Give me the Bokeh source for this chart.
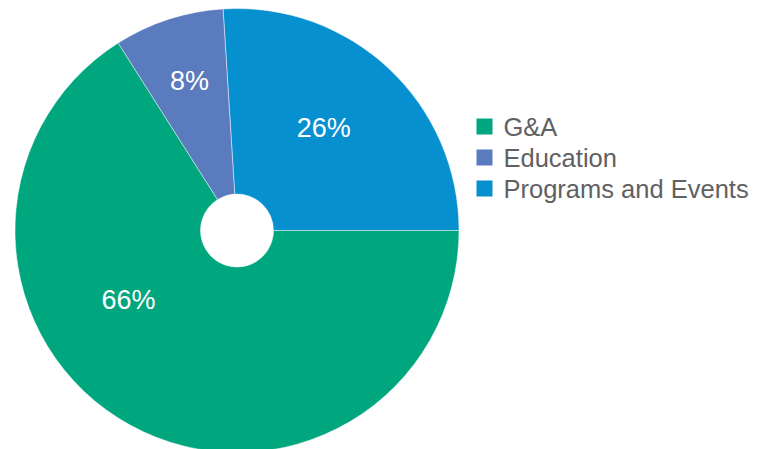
import math
from bokeh.plotting import figure
from bokeh.models import Range1d, ColumnDataSource
from bokeh.core.properties import value
from bokeh.embed import file_html
from bokeh.resources import INLINE

# ---- data ----
categories = ["G&A", "Education", "Programs and Events"]
shares = [66, 8, 26]
colors = ["#00a67d", "#5a7bbd", "#0790d0"]

# ---- layout ----
W, H = 766, 449
CX, CY = 236.5, H - 230
R_OUT, R_IN = 222, 36.5
FONT = "Liberation Sans"

# slices drawn counter-clockwise from 3 o'clock: Programs, Education, G&A
order = [2, 1, 0]
starts, ends, cols, names = [], [], [], []
acc = 0.0
total = float(sum(shares))
for i in order:
    a0 = acc
    acc += shares[i] / total * 2 * math.pi
    starts.append(a0)
    ends.append(acc)
    cols.append(colors[i])
    names.append(categories[i])

p = figure(width=W, height=H, output_backend="svg", toolbar_location=None,
           x_range=Range1d(0, W), y_range=Range1d(0, H),
           min_border=0, outline_line_color=None)
p.axis.visible = False
p.grid.visible = False
p.background_fill_color = "white"
p.border_fill_color = "white"

src = ColumnDataSource(dict(start=starts, end=ends, color=cols, name=names))
p.annular_wedge(x=CX, y=CY, inner_radius=R_IN, outer_radius=R_OUT,
                start_angle="start", end_angle="end", fill_color="color",
                line_color="white", line_alpha=0.45, line_width=1, source=src)

# percentage labels: angle (deg) and radius per slice (layout)
label_pos = {"Programs and Events": (49.7, 134), "Education": (107.6, 157), "G&A": (212.8, 129)}
lx, ly, lt = [], [], []
for i, c in enumerate(categories):
    ang, rad = label_pos[c]
    lx.append(CX + rad * math.cos(math.radians(ang)))
    ly.append(CY + rad * math.sin(math.radians(ang)))
    lt.append(f"{shares[i]}%")
p.text(x=lx, y=ly, text=lt, text_color="white", text_font=value(FONT),
       text_font_size="27px", text_align="center", text_baseline="middle")

# legend (manual)
LEG_X, LEG_Y0, LEG_DY = 484, H - 126, 31
ys = [LEG_Y0 - k * LEG_DY for k in range(len(categories))]
p.scatter(x=[LEG_X] * len(categories), y=ys, marker="square", size=16,
          fill_color=colors, line_color=None)
p.text(x=[LEG_X + 19] * len(categories), y=ys, text=categories, text_color="#606163",
       text_font=value(FONT), text_font_size="25.5px", text_align="left",
       text_baseline="middle")

open("out.html", "w").write(file_html(p, INLINE))
